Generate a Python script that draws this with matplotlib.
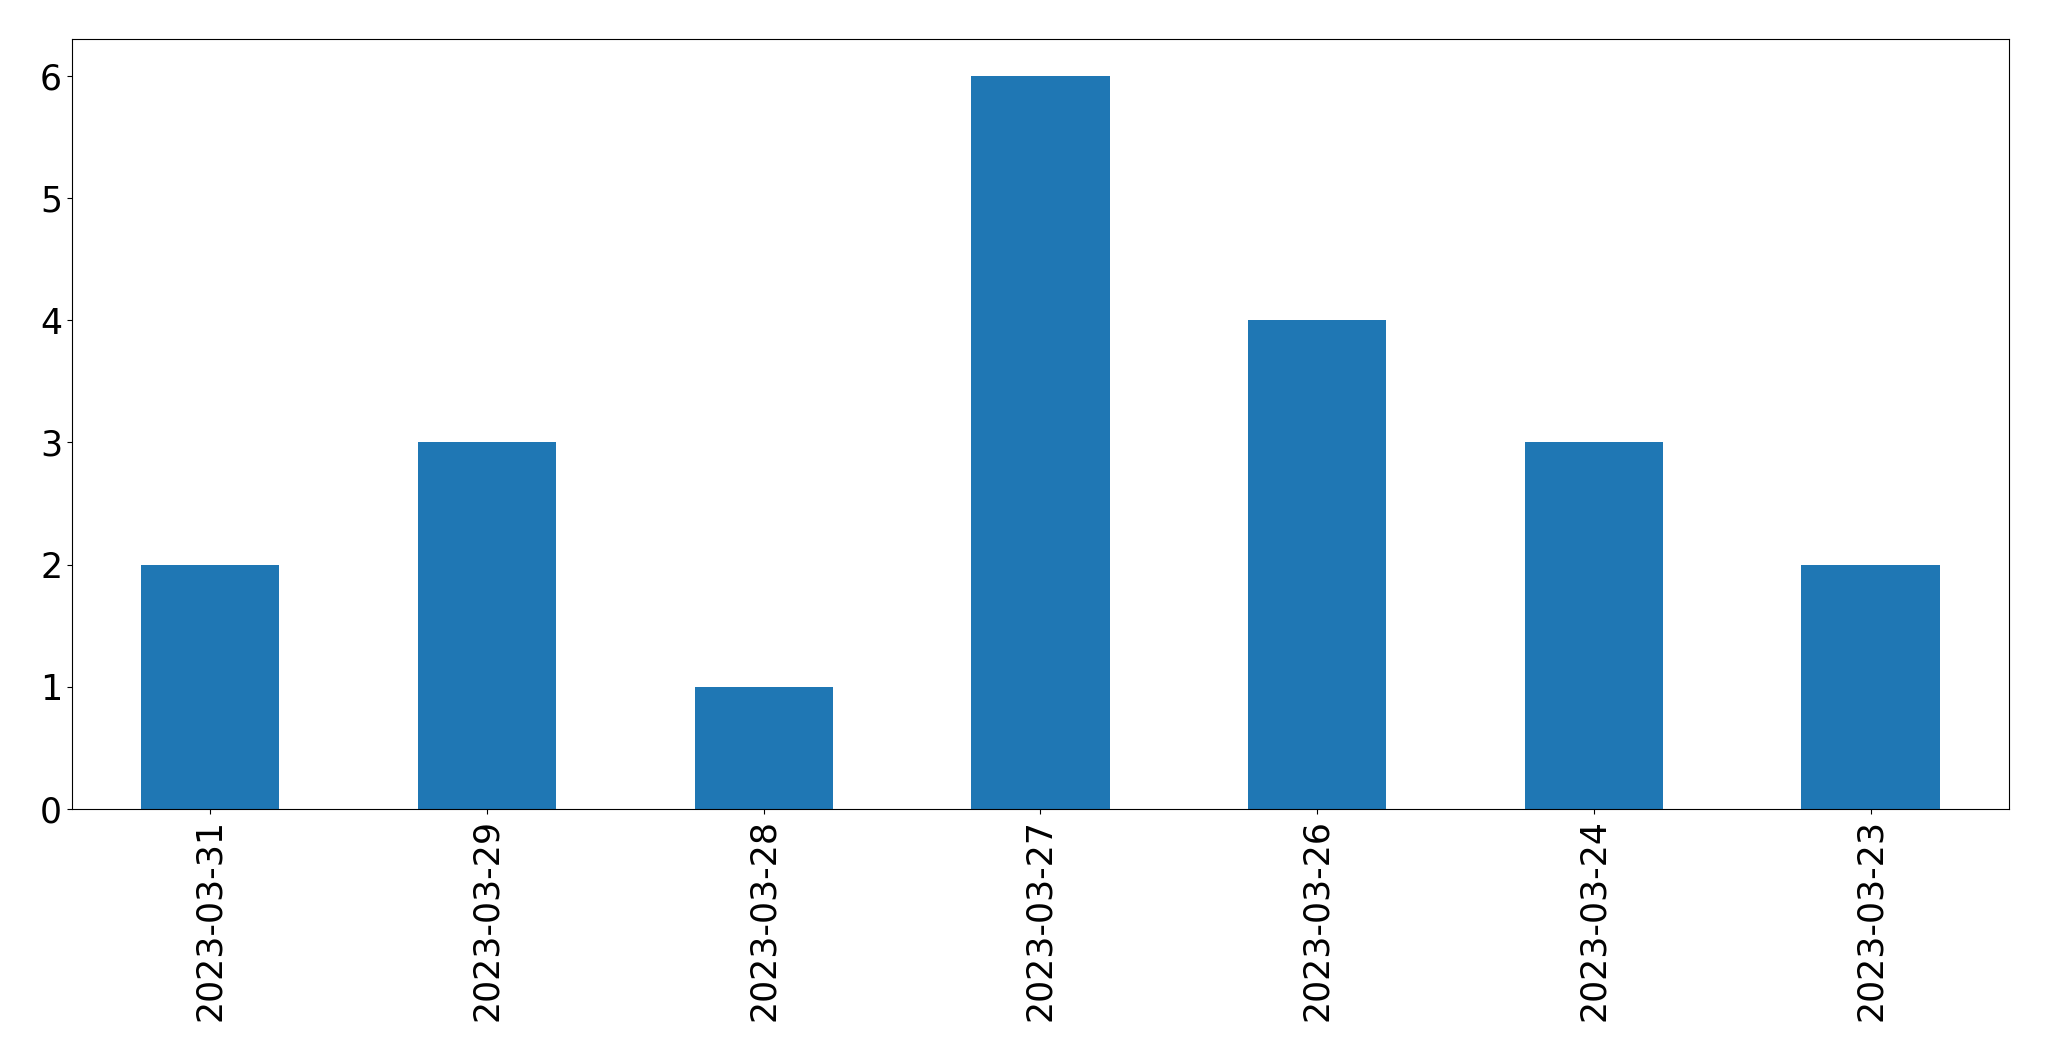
import matplotlib
matplotlib.use("Agg")
import matplotlib.pyplot as plt
import pandas as pd

dates = ["2023-03-31", "2023-03-29", "2023-03-28", "2023-03-27",
         "2023-03-26", "2023-03-24", "2023-03-23"]
counts = [2, 3, 1, 6, 4, 3, 2]

series = pd.Series(counts, index=dates)

fig, ax = plt.subplots(figsize=(20.49, 10.61), dpi=100)
series.plot(kind="bar", ax=ax, color="#1f77b4", fontsize=25)
ax.tick_params(axis="x", rotation=90)

fig.subplots_adjust(left=0.0351, right=0.9805, top=0.9632, bottom=0.2375)
fig.savefig("out.png", dpi=100)
